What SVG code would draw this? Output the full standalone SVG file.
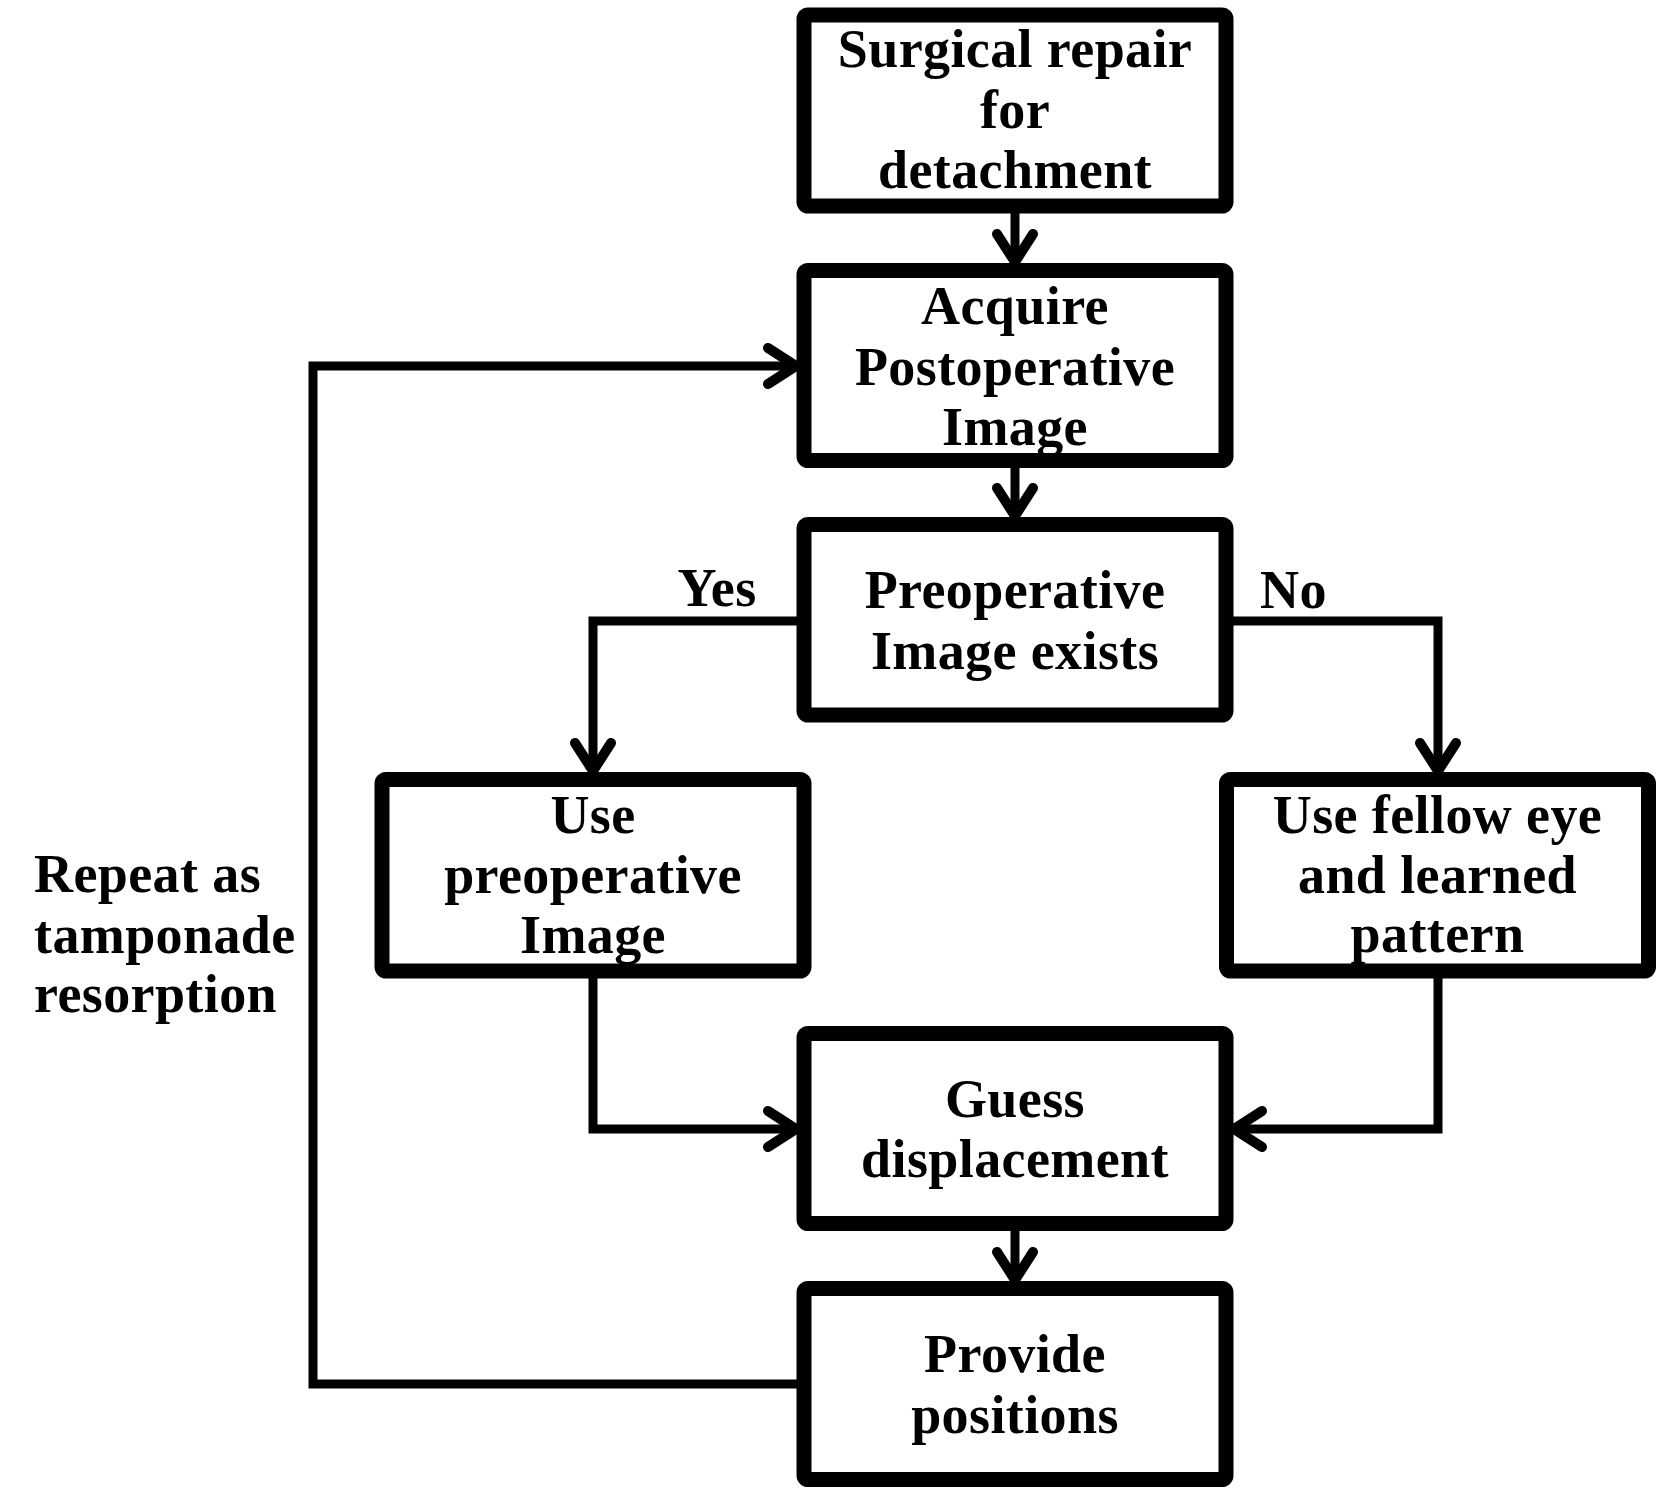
<svg xmlns="http://www.w3.org/2000/svg" width="1659" height="1489" viewBox="0 0 1659 1489">
<style>
.box{fill:#fff;stroke:#000;stroke-width:15}
.t{font-family:"Liberation Serif","Times New Roman",serif;font-weight:bold;font-size:54px;letter-spacing:0.4px;fill:#000;text-anchor:middle}
.l{text-anchor:start}
.c{fill:none;stroke:#000;stroke-width:9;stroke-linejoin:miter}
</style>
<defs>
<marker id="ah" markerUnits="userSpaceOnUse" markerWidth="60" markerHeight="60" viewBox="-40 -30 50 60" refX="0" refY="0" orient="auto">
<path d="M-28,-18 L0,0 L-28,18" fill="none" stroke="#000" stroke-width="10" stroke-linecap="round" stroke-linejoin="round"/>
</marker>
</defs>
<g id="connectors">
<path class="c" d="M1015,213 V262" marker-end="url(#ah)"/>
<path class="c" d="M1015,468 V516" marker-end="url(#ah)"/>
<path class="c" d="M800,621 H593 V771" marker-end="url(#ah)"/>
<path class="c" d="M1230,621 H1438 V771" marker-end="url(#ah)"/>
<path class="c" d="M593,978 V1129 H796" marker-end="url(#ah)"/>
<path class="c" d="M1438,978 V1129 H1234" marker-end="url(#ah)"/>
<path class="c" d="M1015,1231 V1280" marker-end="url(#ah)"/>
<path class="c" d="M800,1384 H313 V366 H796" marker-end="url(#ah)"/>
</g>
<g id="labels">
<text class="t" x="717" y="606">Yes</text>
<text class="t l" x="1260" y="608">No</text>
<text class="t l" x="34" y="892">Repeat as</text>
<text class="t l" x="34" y="953">tamponade</text>
<text class="t l" x="34" y="1012">resorption</text>
</g>
<g id="n1">
<rect class="box" x="804" y="15" width="422" height="191" rx="4"/>
<text class="t" x="1015" y="67">Surgical repair</text>
<text class="t" x="1015" y="128">for</text>
<text class="t" x="1015" y="188">detachment</text>
</g>
<g id="n2">
<rect class="box" x="804" y="270.5" width="422" height="190" rx="4"/>
<text class="t" x="1015" y="324">Acquire</text>
<text class="t" x="1015" y="385">Postoperative</text>
<text class="t" x="1015" y="445">Image</text>
</g>
<g id="n3">
<rect class="box" x="804" y="524.5" width="422" height="190.5" rx="4"/>
<text class="t" x="1015" y="608">Preoperative</text>
<text class="t" x="1015" y="669">Image exists</text>
</g>
<g id="n4">
<rect class="box" x="382" y="779.5" width="422" height="191.5" rx="4"/>
<text class="t" x="593" y="833">Use</text>
<text class="t" x="593" y="893">preoperative</text>
<text class="t" x="593" y="953">Image</text>
</g>
<g id="n5">
<rect class="box" x="1226.5" y="779.5" width="422" height="191.5" rx="4"/>
<text class="t" x="1437.5" y="833">Use fellow eye</text>
<text class="t" x="1437.5" y="893">and learned</text>
<text class="t" x="1437.5" y="952">pattern</text>
</g>
<g id="n6">
<rect class="box" x="804" y="1033.5" width="422" height="190" rx="4"/>
<text class="t" x="1015" y="1117">Guess</text>
<text class="t" x="1015" y="1177">displacement</text>
</g>
<g id="n7">
<rect class="box" x="804" y="1288.5" width="422" height="191" rx="4"/>
<text class="t" x="1015" y="1372">Provide</text>
<text class="t" x="1015" y="1433">positions</text>
</g>
</svg>
